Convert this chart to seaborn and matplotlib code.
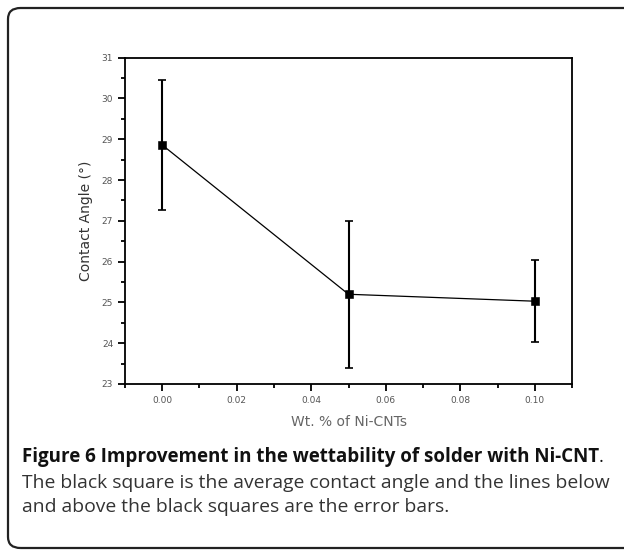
import matplotlib
matplotlib.use("Agg")
import matplotlib.pyplot as plt
import seaborn as sns
import pandas as pd
from matplotlib.patches import FancyBboxPatch
from matplotlib.ticker import MultipleLocator

wt_pct = [0.00, 0.05, 0.10]
contact_angle = [28.86, 25.2, 25.03]
err = [1.6, 1.8, 1.0]
x_ticks = [0.00, 0.02, 0.04, 0.06, 0.08, 0.10]
y_ticks = [23, 24, 25, 26, 27, 28, 29, 30, 31]

sns.set_theme(style="ticks")
plt.rcParams['font.family'] = ['DejaVu Sans']

df = pd.DataFrame({"wt": wt_pct, "angle": contact_angle})

fig = plt.figure(figsize=(6.24, 5.57), dpi=100)
ax = fig.add_axes([0.2003, 0.3106, 0.7164, 0.5858])

sns.lineplot(data=df, x="wt", y="angle", ax=ax, color="black", linewidth=0.9)
ax.errorbar(wt_pct, contact_angle, yerr=err, fmt="none", ecolor="black",
            elinewidth=1.5, capsize=3, capthick=1.2)
sns.scatterplot(data=df, x="wt", y="angle", ax=ax, marker="s", color="black",
                s=28, edgecolor="black", zorder=5)

ax.set_xlim(-0.01, 0.11)
ax.set_ylim(23, 31)
ax.set_xticks(x_ticks)
ax.set_xticklabels([f"{v:.2f}" for v in x_ticks])
ax.set_yticks(y_ticks)
ax.set_yticklabels([str(v) for v in y_ticks])
ax.xaxis.set_minor_locator(MultipleLocator(0.01))
ax.yaxis.set_minor_locator(MultipleLocator(0.5))
ax.tick_params(which="major", direction="out", length=5, width=1.3, labelsize=6.5,
               labelcolor="#555555", color="black")
ax.tick_params(which="minor", direction="out", length=3, width=1.3, color="black")
for s in ax.spines.values():
    s.set_linewidth(1.3)
    s.set_color("black")
ax.set_xlabel("Wt. % of Ni-CNTs", fontsize=10, color="#666666", labelpad=7)
ax.set_ylabel("Contact Angle (°)", fontsize=10, color="#333333", labelpad=6)

# outer rounded border
box = FancyBboxPatch((8/624, 1 - 548/557), (624 - 8 + 20)/624, (548 - 8)/557,
                     boxstyle="round,pad=0,rounding_size=0.02",
                     transform=fig.transFigure, fill=False, edgecolor="#222222",
                     linewidth=1.6, clip_on=False)
fig.patches.append(box)

cap_font = ["Open Sans", "DejaVu Sans"]
t1 = fig.text(22/624, 1 - 457/557, "Figure 6 Improvement in the wettability of solder with Ni-CNT",
              fontsize=13.5, fontweight="bold", family=cap_font, color="#111111", va="center")
fig.canvas.draw()
bb = t1.get_window_extent()
fig.text(bb.x1/624, 1 - 457/557, ".", fontsize=13.5, family=cap_font, color="#111111", va="center")
fig.text(22/624, 1 - 483/557, "The black square is the average contact angle and the lines below",
         fontsize=13.9, family=cap_font, color="#333333", va="center")
fig.text(22/624, 1 - 507/557, "and above the black squares are the error bars.",
         fontsize=13.9, family=cap_font, color="#333333", va="center")

fig.savefig("out.png", dpi=100)
